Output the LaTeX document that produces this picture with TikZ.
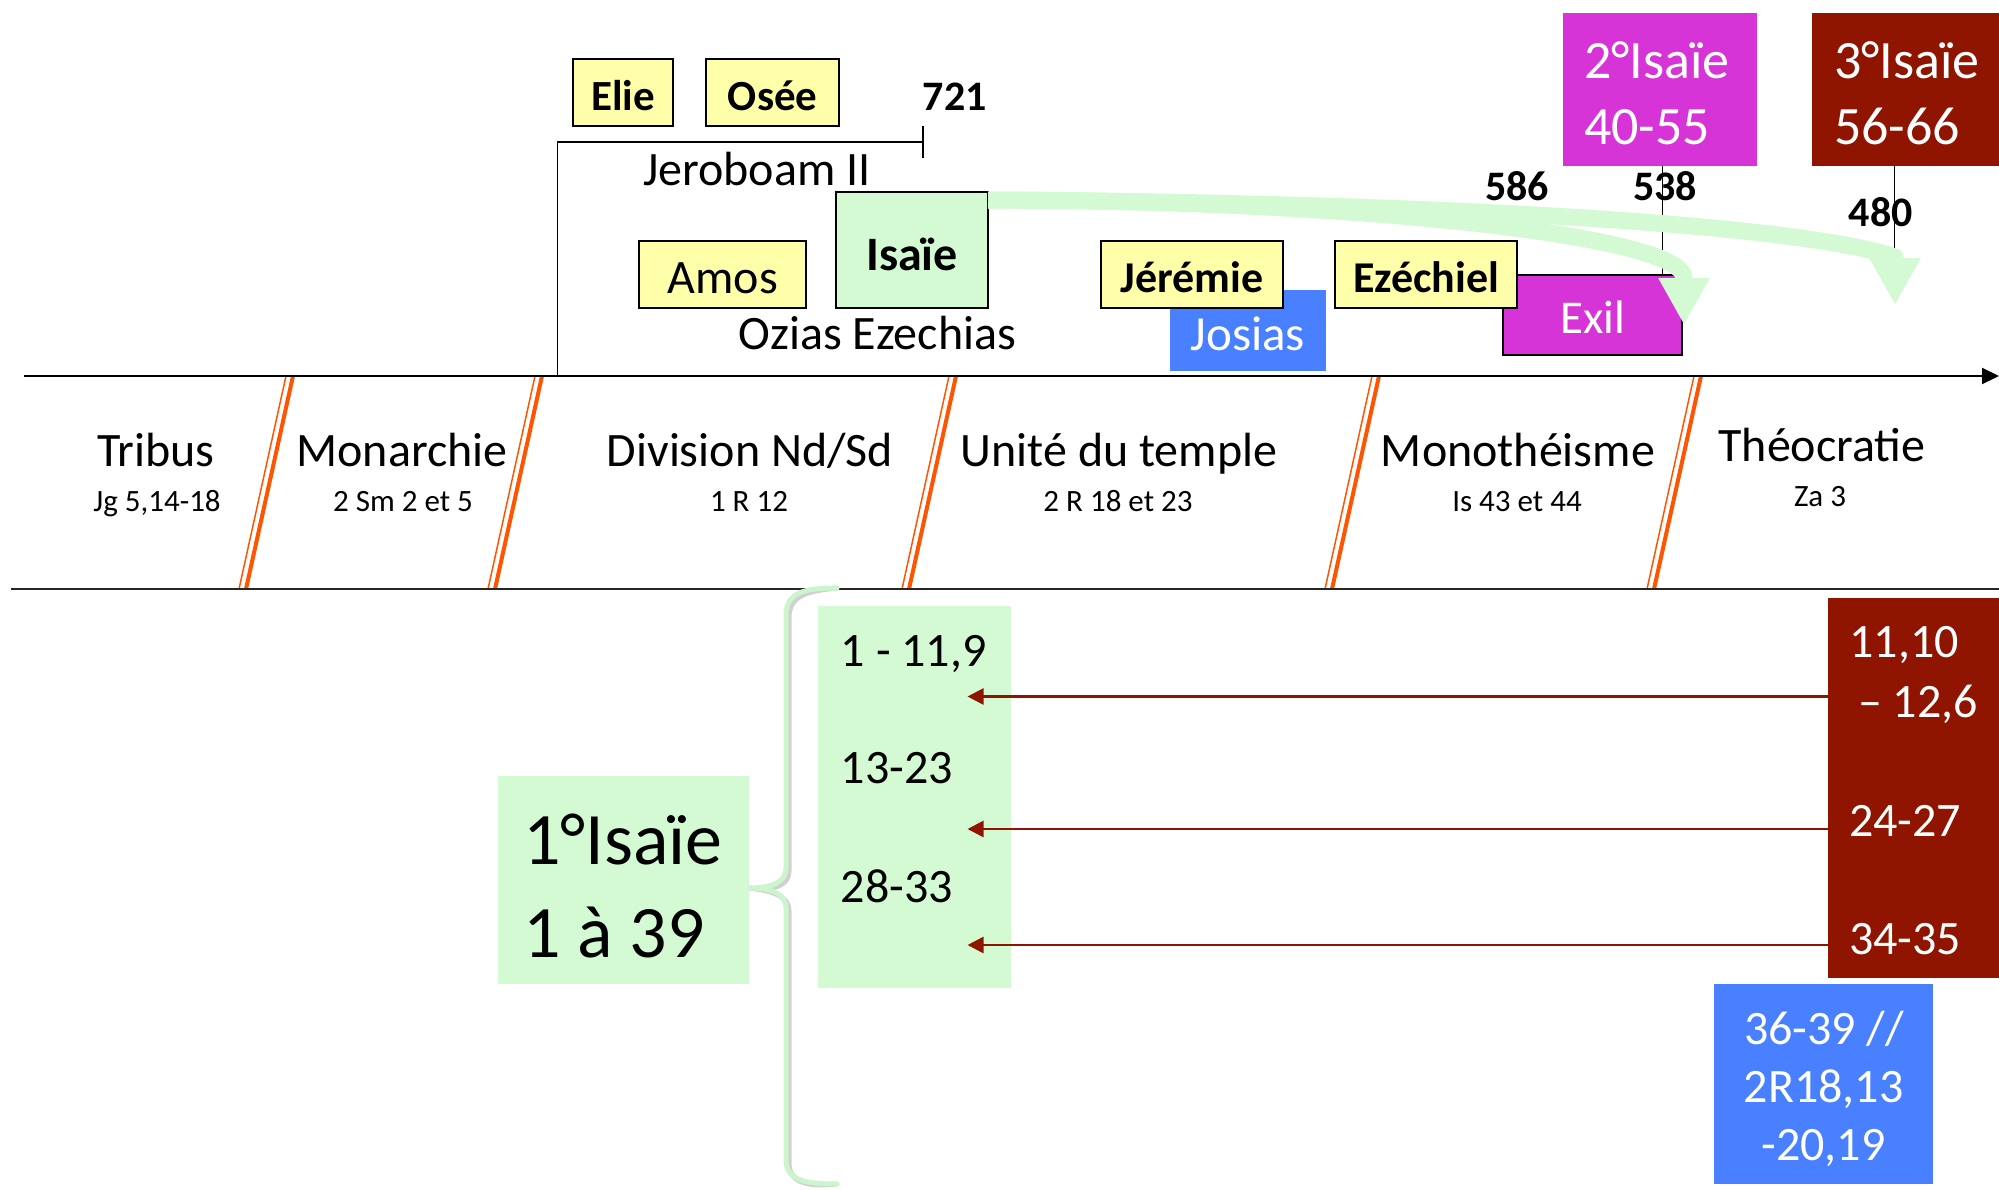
\documentclass[tikz,border=0pt]{standalone}
\usepackage{fontspec}
\setmainfont{Carlito}
\usetikzlibrary{arrows.meta}
\definecolor{ylw}{RGB}{255,255,170}
\definecolor{lgreen}{RGB}{212,250,212}
\definecolor{bracegreen}{RGB}{205,245,205}
\definecolor{magen}{RGB}{214,52,214}
\definecolor{dred}{RGB}{143,21,0}
\definecolor{blu}{RGB}{72,128,255}
\definecolor{orng}{RGB}{255,85,0}
\newcommand{\fsz}[1]{\fontsize{#1pt}{#1pt}\selectfont}
\tikzset{
  lbl/.style={inner sep=0pt, font=\fsz{48}},
  sublbl/.style={inner sep=0pt, font=\fsz{31}},
  ybox/.style={draw=black, line width=2pt, fill=ylw, inner sep=0pt, font=\bfseries\fsz{43}, text depth=0pt},
  datelbl/.style={inner sep=0pt, font=\bfseries\fsz{42}},
  slashthick/.style={draw=orng, line width=4pt},
  slashthin/.style={draw=orng, line width=1.5pt},
  flatbox/.style={inner sep=0pt, draw=none},
  wtxt/.style={inner sep=0pt, text=white},
  rarrow/.style={draw=dred, line width=2.5pt, -{Triangle[length=16pt,width=16pt]}},
  garrow/.style={draw=lgreen, line width=17pt, line join=round, -{Triangle[length=47pt,width=48pt]}},
  ruleline/.style={draw=black, line width=1.6pt},
}
\begin{document}
\begin{tikzpicture}[x=1pt,y=-1pt]
\useasboundingbox (0,0) rectangle (1999,1189);

% orange slashes
\foreach \T in {291,540,954,1377,1699} {
  \draw[slashthick] (\T+2,376) -- (\T-45,589);
  \draw[slashthin] (\T-5,376) -- (\T-52,589);
}

% axis lines
\coordinate (axL) at (24,376);
\coordinate (axR) at (1999,376);
\draw[line width=2pt, -{Triangle[length=17pt,width=16pt]}] (axL) -- (axR);
\coordinate (bl) at (11,589.3);
\coordinate (br) at (1999,589.3);
\draw[line width=2pt, draw=black!85] (bl) -- (br);

% period labels
\node[lbl, anchor=base] (tribus) at (156,466.7) {Tribus};
\node[sublbl, anchor=base] (tribusr) at (157,511.7) {Jg 5,14-18};
\node[lbl, anchor=base] (monar) at (402,466.7) {Monarchie};
\node[sublbl, anchor=base] (monarr) at (403,511.7) {2 Sm 2 et 5};
\node[lbl, anchor=base] (divis) at (750,466.7) {Division Nd/Sd};
\node[sublbl, anchor=base] (divisr) at (749,511.7) {1 R 12};
\node[lbl, anchor=base] (unite) at (1119,466.7) {Unité du temple};
\node[sublbl, anchor=base] (uniter) at (1118,511) {2 R 18 et 23};
\node[lbl, anchor=base] (mono) at (1518,466.7) {Monothéisme};
\node[sublbl, anchor=base] (monor) at (1517,511) {Is 43 et 44};
\node[lbl, anchor=base] (theo) at (1822,461.7) {Théocratie};
\node[sublbl, anchor=base] (theor) at (1820,506) {Za 3};

% upper boxes
\node[ybox, text height=35.3pt, minimum width=100.6pt, minimum height=66.7pt] (elie) at (623,92.7) {Elie};
\node[ybox, text height=35.3pt, minimum width=133.3pt, minimum height=66.7pt] (osee) at (772.7,92.7) {Osée};

% Jeroboam bracket
\coordinate (jb0) at (557.3,376);
\coordinate (jb1) at (557.3,141.7);
\coordinate (jb2) at (922.7,141.7);
\coordinate (jt1) at (922.7,126);
\coordinate (jt2) at (922.7,158.3);
\draw[ruleline] (jb0) -- (jb1) -- (jb2);
\draw[ruleline] (jt1) -- (jt2);
\node[lbl, anchor=base west] (jerob) at (643,185) {Jeroboam II};
\node[datelbl, anchor=base west] (d721) at (922.7,110.7) {721};

\node[ybox, font=\fsz{48}, text height=37.6pt, minimum width=166.7pt, minimum height=66.4pt] (amos) at (722.7,274.5) {Amos};
\node[draw=black, line width=2pt, fill=lgreen, inner sep=0pt, font=\bfseries\fsz{48}, text height=40.6pt, text depth=0pt, minimum width=152.3pt, minimum height=116pt] (isaie) at (912,249.7) {Isaïe};
\node[lbl, anchor=base west] (ozias) at (738.3,349) {Ozias Ezechias};

\node[flatbox, fill=blu, text=white, font=\fsz{49}, text height=39.2pt, text depth=0pt, minimum width=156.3pt, minimum height=80.7pt] (josias) at (1247.9,330.4) {Josias};
\node[ybox, font=\bfseries\fsz{44}, text height=36pt, minimum width=182.4pt, minimum height=67.3pt] (jeremie) at (1192.2,274.7) {Jérémie};
\node[draw=black, line width=2pt, fill=magen, text=white, inner sep=0pt, font=\fsz{47}, text height=36.6pt, text depth=0pt, minimum width=179pt, minimum height=80pt] (exil) at (1592.5,315) {Exil};
\node[ybox, font=\bfseries\fsz{44}, text height=36pt, minimum width=181.6pt, minimum height=67.3pt] (ezech) at (1426.2,274.7) {Ezéchiel};

% deutero and trito Isaiah
\node[flatbox, fill=magen, minimum width=193.8pt, minimum height=152.4pt] (isaie2) at (1659.9,89.5) {};
\node[wtxt, font=\fsz{54}, anchor=base west] (isaie2a) at (1584,78.3) {2°Isaïe};
\node[wtxt, font=\fsz{54}, anchor=base west] (isaie2b) at (1584,144) {40-55};
\node[flatbox, fill=dred, minimum width=187pt, minimum height=152.4pt] (isaie3) at (1905.5,89.5) {};
\node[wtxt, font=\fsz{54}, anchor=base west] (isaie3a) at (1834,78.3) {3°Isaïe};
\node[wtxt, font=\fsz{54}, anchor=base west] (isaie3b) at (1834,144) {56-66};

\coordinate (l2a) at (1662.6,165.7);
\coordinate (l2b) at (1662.6,275);
\draw[ruleline] (l2a) -- (l2b);
\coordinate (l3a) at (1894.4,165.7);
\coordinate (l3b) at (1894.4,257);
\draw[ruleline] (l3a) -- (l3b);

% green arrows from Isaie
\coordinate (gs) at (988,200);
\coordinate (g1b) at (1684,278);
\coordinate (g1) at (1684,325);
\coordinate (g2b) at (1895,257);
\coordinate (g2) at (1895,305);
\draw[garrow] (gs) .. controls (1450,203) and (1800,225) .. (g2b) -- (g2);
\draw[garrow] (gs) .. controls (1350,200) and (1684,235) .. (g1b) -- (g1);

\node[datelbl, anchor=base west] (d586) at (1485,200) {586};
\node[datelbl, anchor=base west] (d538) at (1633,200) {538};
\node[datelbl, anchor=base west] (d480) at (1848.5,226.7) {480};

% lower part
\node[flatbox, fill=lgreen, minimum width=250.7pt, minimum height=207.7pt] (isaie1) at (623.25,879.85) {};
\node[inner sep=0pt, font=\fsz{74}, anchor=base west] (isaie1a) at (523,864) {1°Isaïe};
\node[inner sep=0pt, font=\fsz{74}, anchor=base west] (isaie1b) at (523,957) {1 à 39};

% brace
\coordinate (brt) at (837,588);
\coordinate (brtip) at (749,888);
\coordinate (brb) at (837,1184);
\draw[line width=5pt, draw=black!18, shift={(3pt,-3pt)}]
  (brt) .. controls (805,588) and (786,592) .. (786,615) -- (786,868)
  .. controls (786,882) and (772,888) .. (brtip)
  .. controls (772,888) and (786,894) .. (786,908) -- (786,1160)
  .. controls (786,1180) and (805,1184) .. (brb);
\draw[line width=5pt, draw=bracegreen, line cap=round]
  (brt) .. controls (805,588) and (786,592) .. (786,615) -- (786,868)
  .. controls (786,882) and (772,888) .. (brtip)
  .. controls (772,888) and (786,894) .. (786,908) -- (786,1160)
  .. controls (786,1180) and (805,1184) .. (brb);

\node[flatbox, fill=lgreen, minimum width=193.5pt, minimum height=382.2pt] (col1) at (914.25,796.6) {};
\node[lbl, anchor=base west] (c1a) at (840.7,666) {1 - 11,9};
\node[lbl, anchor=base west] (c1b) at (840.7,783) {13-23};
\node[lbl, anchor=base west] (c1c) at (840.7,902.8) {28-33};

\node[flatbox, fill=dred, minimum width=170.7pt, minimum height=380.5pt] (col3) at (1913.65,787.75) {};
\node[wtxt, font=\fsz{48}, anchor=base west] (c3a) at (1849.3,657.7) {11,10};
\node[wtxt, font=\fsz{48}, anchor=base west] (c3b) at (1858,717.9) {– 12,6};
\node[wtxt, font=\fsz{48}, anchor=base west] (c3c) at (1849,836.3) {24-27};
\node[wtxt, font=\fsz{48}, anchor=base west] (c3d) at (1849,954.8) {34-35};

\coordinate (r1) at (967.5,696.5);
\coordinate (r2) at (967.5,829);
\coordinate (r3) at (967.5,945);
\draw[rarrow] (col3.west |- r1) -- (r1);
\draw[rarrow] (col3.west |- r2) -- (r2);
\draw[rarrow] (col3.west |- r3) -- (r3);

\node[flatbox, fill=blu, minimum width=218.7pt, minimum height=200pt] (par) at (1823.35,1084) {};
\node[wtxt, font=\fsz{48}, anchor=base] (para) at (1824,1044) {36-39 //};
\node[wtxt, font=\fsz{48}, anchor=base] (parb) at (1823.5,1102) {2R18,13};
\node[wtxt, font=\fsz{48}, anchor=base] (parc) at (1823.5,1160.6) {-20,19};
\end{tikzpicture}
\end{document}
